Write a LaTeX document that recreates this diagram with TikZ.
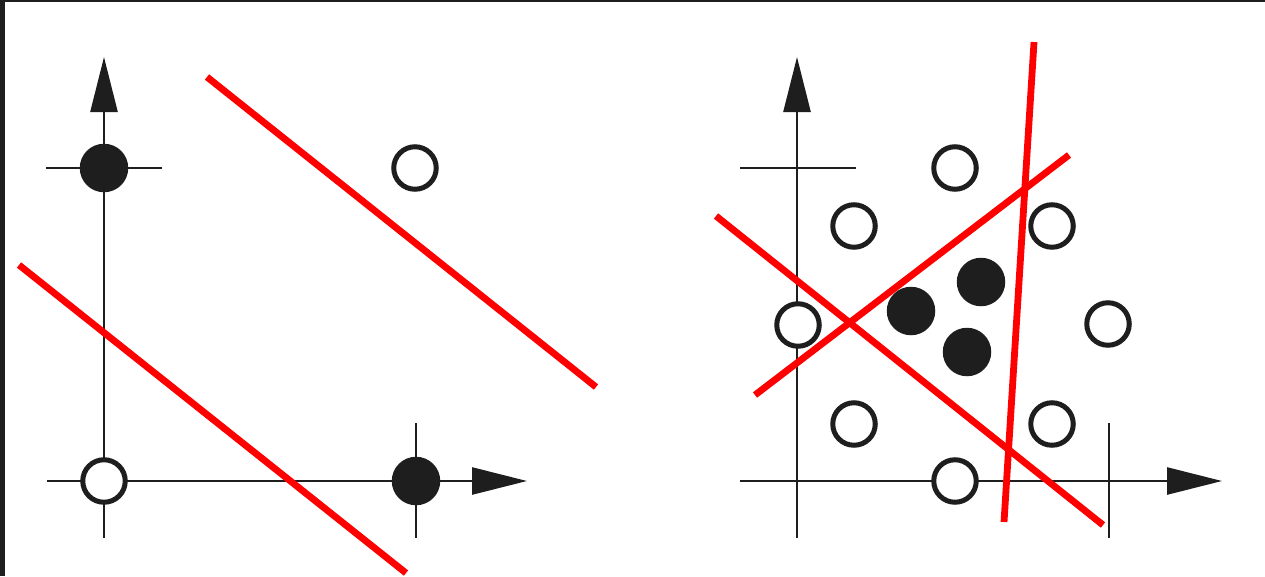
\documentclass[tikz,border=0pt]{standalone}
\usetikzlibrary{arrows.meta}
\definecolor{ink}{HTML}{1E1E1E}
\definecolor{redline}{HTML}{FF0000}
\tikzset{
  axis/.style={draw=ink, line width=2.6pt, -{Triangle[length=55pt,width=27pt]}},
  tick/.style={draw=ink, line width=2.6pt},
  opendot/.style={circle, draw=ink, line width=5pt, fill=white, minimum size=42.5pt, inner sep=0pt},
  fulldot/.style={circle, fill=ink, minimum size=48.5pt, inner sep=0pt},
  sep/.style={draw=redline, line width=6.8pt, line cap=butt}
}
\begin{document}
\begin{tikzpicture}[x=1pt,y=-1pt]
\useasboundingbox (0,0) rectangle (1265,576);
\fill[white] (0,0) rectangle (1265,576);
\fill[ink] (0,0) rectangle (5,576);
\fill[ink] (0,0) rectangle (1265,1.5);
% ---------- left panel ----------
\coordinate (LyB) at (104,538);
\coordinate (LyT) at (104,57);
\coordinate (LxL) at (47,481);
\coordinate (LxR) at (527,481);
\draw[axis] (LyB) -- (LyT);
\draw[axis] (LxL) -- (LxR);
\coordinate (Lt1a) at (46,168);
\coordinate (Lt1b) at (162,168);
\draw[tick] (Lt1a) -- (Lt1b);
\coordinate (Lt2a) at (416,423);
\coordinate (Lt2b) at (416,538);
\draw[tick] (Lt2a) -- (Lt2b);
\node[fulldot] (l1) at (104,168) {};
\node[opendot] (l2) at (415,168) {};
\node[opendot] (l3) at (104,481) {};
\node[fulldot] (l4) at (416,481) {};
\coordinate (r1a) at (207,77);
\coordinate (r1b) at (596,387);
\coordinate (r2a) at (19,265);
\coordinate (r2b) at (406,573);
\draw[sep] (r1a) -- (r1b);
\draw[sep] (r2a) -- (r2b);
% ---------- right panel ----------
\coordinate (RyB) at (797,538);
\coordinate (RyT) at (797,57);
\coordinate (RxL) at (740,481);
\coordinate (RxR) at (1222,481);
\draw[axis] (RyB) -- (RyT);
\draw[axis] (RxL) -- (RxR);
\coordinate (Rt1a) at (740,168);
\coordinate (Rt1b) at (856,168);
\draw[tick] (Rt1a) -- (Rt1b);
\coordinate (Rt2a) at (1109,423);
\coordinate (Rt2b) at (1109,538);
\draw[tick] (Rt2a) -- (Rt2b);
\node[opendot] (o1) at (955,168) {};
\node[opendot] (o2) at (854,226) {};
\node[opendot] (o3) at (1052,226) {};
\node[opendot] (o4) at (798,325) {};
\node[opendot] (o5) at (1108,324) {};
\node[opendot] (o6) at (854,424) {};
\node[opendot] (o7) at (1052,424) {};
\node[opendot] (o8) at (955,481) {};
\node[fulldot] (f1) at (911,311) {};
\node[fulldot] (f2) at (981,282) {};
\node[fulldot] (f3) at (967,352) {};
\coordinate (s1a) at (1034,42);
\coordinate (s1b) at (1004,522);
\coordinate (s2a) at (716,216);
\coordinate (s2b) at (1103,525);
\coordinate (s3a) at (755,395);
\coordinate (s3b) at (1069,155);
\draw[sep] (s1a) -- (s1b);
\draw[sep] (s2a) -- (s2b);
\draw[sep] (s3a) -- (s3b);
\end{tikzpicture}
\end{document}
